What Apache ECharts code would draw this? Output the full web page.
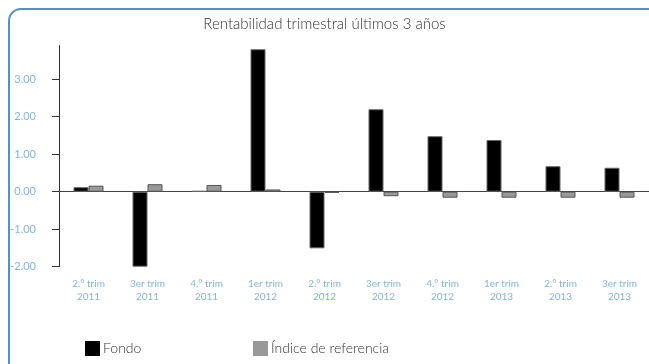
<!DOCTYPE html>
<html>
<head>
<meta charset="utf-8">
<script src="https://cdn.jsdelivr.net/npm/echarts@6/dist/echarts.min.js"></script>
<style>
  html, body { margin: 0; padding: 0; background: #fff; }
  #chart { width: 649px; height: 364px; }
</style>
</head>
<body>
<div id="chart"></div>
<script>
// quarters shown on the category axis
const quarters = ['2.° trim\n2011', '3er trim\n2011', '4.° trim\n2011', '1er trim\n2012', '2.° trim\n2012',
  '3er trim\n2012', '4.° trim\n2012', '1er trim\n2013', '2.° trim\n2013', '3er trim\n2013']
const fondo = [0.12, -2.0, 0.02, 3.8, -1.51, 2.2, 1.48, 1.38, 0.68, 0.64]
const indice = [0.16, 0.2, 0.18, 0.06, -0.03, -0.12, -0.16, -0.16, -0.16, -0.16]
const yTicks = [-2, -1, 0, 1, 2, 3]

const font = 'Lato, "Open Sans", sans-serif'
const blue = '#7fb6e4'

const chart = echarts.init(document.getElementById('chart'), undefined, { renderer: 'canvas' })
chart.setOption({
  animation: false,
  title: {
    text: 'Rentabilidad trimestral últimos 3 años',
    left: 'center',
    top: 12,
    textStyle: { fontFamily: font, fontSize: 15, fontWeight: 300, color: '#333' },
  },
  graphic: [{
    type: 'rect',
    shape: { x: 9, y: 9, width: 700, height: 366, r: 12 },
    style: { fill: 'none', stroke: '#5b8fbf', lineWidth: 2 },
    z: 0,
  }],
  grid: { left: 59, top: 45.5, width: 598, height: 221.2 },
  legend: [
    {
      data: ['Fondo'], left: 85, top: 341, padding: 0, icon: 'rect', itemWidth: 15, itemHeight: 15,
      itemStyle: { borderWidth: 0 },
      textStyle: { fontFamily: font, fontSize: 14, fontWeight: 300, color: '#333', padding: [0, 0, 0, -2] },
    },
    {
      data: ['Índice de referencia'], left: 253, top: 341, padding: 0, icon: 'rect', itemWidth: 15, itemHeight: 15,
      itemStyle: { borderWidth: 0 },
      textStyle: { fontFamily: font, fontSize: 14, fontWeight: 300, color: '#333', padding: [0, 0, 0, -2] },
    },
  ],
  xAxis: [
    {
      type: 'category',
      data: quarters,
      axisLine: { onZero: true, lineStyle: { color: '#444', width: 1 } },
      axisTick: { show: false },
      axisLabel: { show: false },
    },
    {
      type: 'category',
      data: quarters,
      position: 'bottom',
      axisLine: { show: false, onZero: false },
      axisTick: { show: false },
      axisLabel: { color: blue, fontFamily: font, fontSize: 10, lineHeight: 13, margin: 11, interval: 0 },
    },
  ],
  yAxis: {
    type: 'value',
    min: -2,
    max: 3.9,
    splitLine: { show: false },
    axisLine: { show: true, lineStyle: { color: '#333', width: 1 } },
    axisTick: { show: true, length: 7, customValues: yTicks, lineStyle: { color: '#333' } },
    axisLabel: {
      customValues: yTicks,
      color: blue, fontFamily: font, fontSize: 11, margin: 23,
      formatter: (v) => v.toFixed(2),
    },
  },
  series: [
    {
      name: 'Fondo',
      type: 'bar',
      data: fondo,
      barWidth: 15,
      barGap: '0%',
      itemStyle: { color: '#000', borderColor: '#666', borderWidth: 1 },
    },
    {
      name: 'Índice de referencia',
      type: 'bar',
      data: indice,
      barWidth: 15,
      itemStyle: { color: '#999', borderColor: '#555', borderWidth: 1 },
    },
  ],
})
</script>
</body>
</html>
